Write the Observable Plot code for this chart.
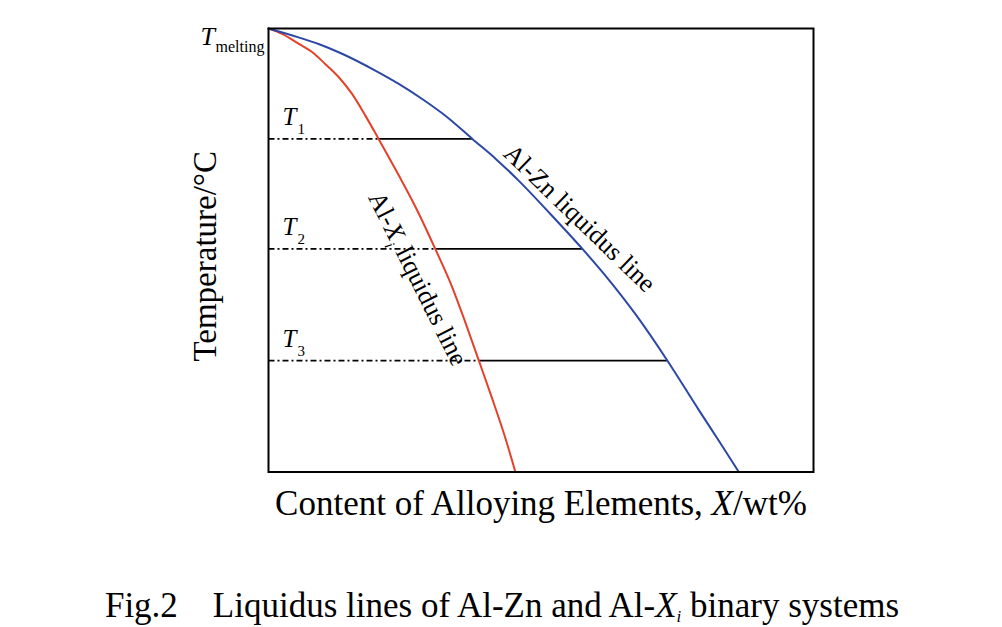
<!DOCTYPE html>
<html>
<head>
<meta charset="utf-8">
<script src="https://cdn.jsdelivr.net/npm/d3@7"></script>
<script src="https://cdn.jsdelivr.net/npm/@observablehq/plot@0.6"></script>
<style>
  html, body { margin: 0; padding: 0; background: #fff; }
  svg text { white-space: pre; }
</style>
</head>
<body>
<div id="chart"></div>
<script>
// Al-Zn liquidus line (x: wt%, y: relative temperature)
const alZnX = [0, 5.5, 9.2, 13.5, 19.6, 23.9, 28.2, 32.8, 37.4, 41.7, 45.9, 51.4, 57.6, 62.0, 67.5, 73.2, 79.0, 82.6, 86.3];
const alZnT = [100, 98.0, 96.5, 94.3, 90.5, 87.5, 84.1, 80.0, 75.1, 70.6, 65.7, 58.6, 50.3, 44.0, 35.3, 25.1, 13.9, 7.1, 0];
// Al-Xi liquidus line
const alXiX = [0, 2.5, 5.5, 8.0, 10.4, 12.9, 15.3, 17.8, 20.2, 23.9, 27.0, 30.6, 33.7, 36.1, 38.6, 41.0, 43.5, 45.3];
const alXiT = [100, 98.8, 96.6, 94.7, 92.0, 89.0, 85.3, 80.3, 75.1, 66.9, 59.7, 50.3, 41.7, 33.8, 25.1, 16.7, 7.5, 0];
// Isotherms T1..T3
const isoNames = ["1", "2", "3"];
const isoT = [75.1, 50.3, 25.1];
const isoXiX = [20.2, 30.6, 38.6];
const isoZnX = [37.4, 57.6, 73.2];
const meltT = 100;

const zn = alZnX.map((x, i) => ({x, t: alZnT[i]}));
const xi = alXiX.map((x, i) => ({x, t: alXiT[i]}));
const iso = isoNames.map((n, i) => ({n, t: isoT[i], x1: isoXiX[i], x2: isoZnX[i]}));

const serif = "'Liberation Serif', 'Times New Roman', serif";
const caption = "Fig.2    Liquidus lines of Al-Zn and Al-Xi binary systems";

const plot = Plot.plot({
  width: 1002,
  height: 627,
  marginLeft: 268,
  marginTop: 28,
  marginRight: 189,
  marginBottom: 155.5,
  x: {domain: [0, 100], axis: null},
  y: {domain: [0, 100], axis: null},
  style: {fontFamily: serif, background: "white", color: "black", overflow: "visible"},
  marks: [
    Plot.link(iso, {x1: 0, x2: "x1", y1: "t", y2: "t", stroke: "black", strokeWidth: 1.8, strokeDasharray: "6,3,2,3"}),
    Plot.link(iso, {x1: "x1", x2: "x2", y1: "t", y2: "t", stroke: "black", strokeWidth: 1.8}),
    Plot.line(xi, {x: "x", y: "t", stroke: "#e4412a", strokeWidth: 2, curve: "monotone-x"}),
    Plot.line(zn, {x: "x", y: "t", stroke: "#2d48a4", strokeWidth: 2, curve: "monotone-x"}),
    Plot.frame({stroke: "black", strokeWidth: 2}),
    // T_melting
    Plot.text([meltT], {x: 0, y: d => d, text: ["T"], fontStyle: "italic", fontSize: 26, textAnchor: "start", lineAnchor: "bottom", dx: -68, dy: 16}),
    Plot.text([meltT], {x: 0, y: d => d, text: ["melting"], fontSize: 16, textAnchor: "start", lineAnchor: "bottom", dx: -53, dy: 23}),
    // isotherm labels
    Plot.text(iso, {x: 0, y: "t", text: () => "T", fontStyle: "italic", fontSize: 25, textAnchor: "start", lineAnchor: "bottom", dx: 14, dy: -14}),
    Plot.text(iso, {x: 0, y: "t", text: "n", fontSize: 15, textAnchor: "start", lineAnchor: "bottom", dx: 29, dy: -5}),
    // curve labels
    Plot.text(["Al-Zn liquidus line"], {x: 57.1, y: 57.2, text: d => d, rotate: 44, fontSize: 26, textAnchor: "middle", lineAnchor: "middle"}),
    Plot.text(["Al-Xi liquidus line"], {x: 27.4, y: 43.6, text: d => d, rotate: 63.4, fontSize: 26, textAnchor: "middle", lineAnchor: "middle"}),
    // axis titles
    Plot.text(["Temperature/°C"], {frameAnchor: "left", text: d => d, rotate: -90, fontSize: 33, textAnchor: "middle", lineAnchor: "middle", dx: -63, dy: 6}),
    Plot.text(["Content of Alloying Elements, X/wt%"], {frameAnchor: "bottom", text: d => d, fontSize: 35, textAnchor: "middle", lineAnchor: "middle", dx: 0, dy: 32}),
    // caption
    Plot.text([caption], {frameAnchor: "bottom", text: d => d, fontSize: 35, textAnchor: "middle", lineAnchor: "middle", dx: -39, dy: 134})
  ]
});

function rich(svg, plain, segs) {
  d3.select(svg).selectAll("text").filter(function () { return this.textContent === plain; }).each(function () {
    const t = d3.select(this);
    t.text(null);
    segs.forEach(s => {
      const ts = t.append("tspan").text(s.t);
      if (s.i) ts.attr("font-style", "italic");
      if (s.sub) ts.attr("font-size", s.sub).attr("dy", s.dy);
      if (s.back) ts.attr("dy", s.back);
    });
  });
}

rich(plot, "Al-Xi liquidus line", [
  {t: "Al-"}, {t: "X", i: true}, {t: "i", i: true, sub: 15, dy: 7}, {t: " liquidus line", back: -7}
]);
rich(plot, "Content of Alloying Elements, X/wt%", [
  {t: "Content of Alloying Elements, "}, {t: "X", i: true}, {t: "/wt%"}
]);
rich(plot, caption, [
  {t: "Fig.2    Liquidus lines of Al-Zn and Al-"}, {t: "X", i: true}, {t: "i", i: true, sub: 17, dy: 5}, {t: " binary systems", back: -5}
]);

document.getElementById("chart").appendChild(plot);
</script>
</body>
</html>
